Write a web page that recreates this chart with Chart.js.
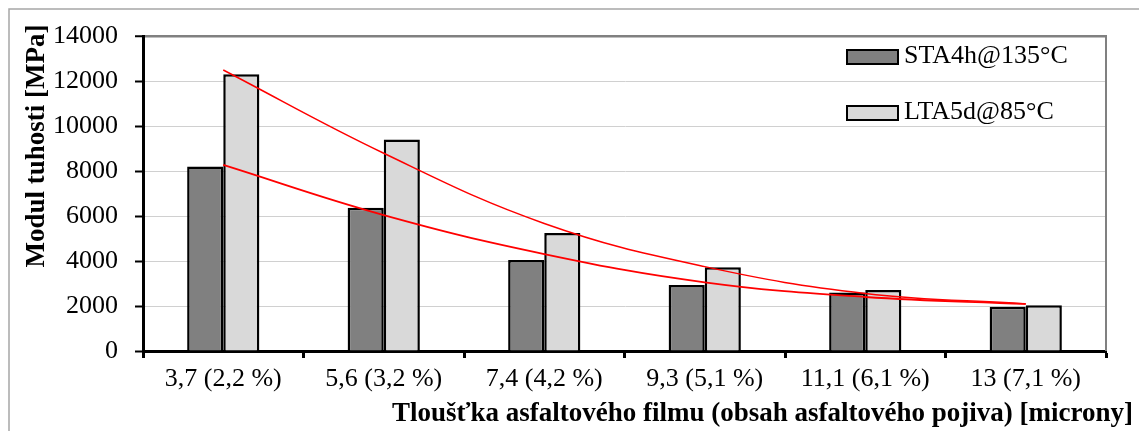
<!DOCTYPE html>
<html>
<head>
<meta charset="utf-8">
<title>Modul tuhosti</title>
<script src="https://cdn.jsdelivr.net/npm/chart.js@4.4.1/dist/chart.umd.min.js"></script>
<style>
  body { margin: 0; background: #fff; }
  canvas { display: block; }
</style>
</head>
<body>
<canvas id="modulChart" width="1139" height="431"></canvas>
<script>
// values
var categories = ['3,7 (2,2 %)', '5,6 (3,2 %)', '7,4 (4,2 %)', '9,3 (5,1 %)', '11,1 (6,1 %)', '13 (7,1 %)'];
var staValues = [8200, 6370, 4050, 2930, 2600, 1970];
var ltaValues = [12300, 9400, 5250, 3720, 2710, 2030];
var staTrend = [8270, 6040, 4310, 3050, 2400, 2090];
var ltaTrend = [12490, 8790, 5670, 3750, 2560, 2090];
var yTicks = [0, 2000, 4000, 6000, 8000, 10000, 12000, 14000];

var serif = '"Liberation Serif", "Times New Roman", serif';

// frame, right border, axis titles and the legend
var extrasPlugin = {
    id: 'extras',
    afterDraw: function(chart) {
        var ctx = chart.ctx;
        var area = chart.chartArea;
        ctx.save();
        // outer frame
        ctx.strokeStyle = '#a6a6a6';
        ctx.lineWidth = 1.5;
        ctx.beginPath();
        ctx.moveTo(9, chart.height + 5);
        ctx.lineTo(9, 9);
        ctx.lineTo(chart.width + 5, 9);
        ctx.stroke();
        // right border of plot area
        ctx.strokeStyle = '#808080';
        ctx.lineWidth = 2;
        ctx.beginPath();
        ctx.moveTo(area.right, area.top - 1);
        ctx.lineTo(area.right, area.bottom);
        ctx.stroke();

        // y title
        ctx.fillStyle = '#000';
        ctx.font = 'bold 27px ' + serif;
        ctx.textAlign = 'center';
        ctx.textBaseline = 'middle';
        ctx.save();
        ctx.translate(37, 146);
        ctx.rotate(-Math.PI / 2);
        ctx.fillText('Modul tuhosti [MPa]', 0, 0);
        ctx.restore();
        // x title
        ctx.textAlign = 'right';
        ctx.textBaseline = 'alphabetic';
        ctx.fillText('Tloušťka asfaltového filmu (obsah asfaltového pojiva) [microny]', 1133, 421);

        // legend
        ctx.font = '26px ' + serif;
        ctx.textAlign = 'left';
        ctx.textBaseline = 'middle';
        var bars = chart.data.datasets.filter(function(d) { return d.type === 'bar'; });
        bars.forEach(function(ds, i) {
            var bx = area.right - 259;
            var by = area.top + 14 + i * 56;
            ctx.fillStyle = ds.backgroundColor;
            ctx.fillRect(bx, by, 51, 14);
            ctx.strokeStyle = '#000';
            ctx.lineWidth = 2;
            ctx.strokeRect(bx, by, 51, 14);
            ctx.fillStyle = '#000';
            ctx.fillText(ds.label, bx + 57, by + 6);
        });
        ctx.restore();
    }
};

var ctx = document.getElementById('modulChart').getContext('2d');
var modulChart = new Chart(ctx, {
    data: {
        labels: categories,
        datasets: [{
            type: 'line',
            label: 'trend LTA',
            data: ltaTrend,
            borderColor: '#ff0000',
            borderWidth: 1.5,
            pointRadius: 0,
            tension: 0.4,
            fill: false,
            order: 1
        }, {
            type: 'line',
            label: 'trend STA',
            data: staTrend,
            borderColor: '#ff0000',
            borderWidth: 1.8,
            pointRadius: 0,
            tension: 0.4,
            fill: false,
            order: 1
        }, {
            type: 'bar',
            label: 'STA4h@135°C',
            data: staValues,
            backgroundColor: '#808080',
            borderColor: '#000',
            borderWidth: 2.5,
            categoryPercentage: 0.45,
            barPercentage: 1,
            order: 2
        }, {
            type: 'bar',
            label: 'LTA5d@85°C',
            data: ltaValues,
            backgroundColor: '#d9d9d9',
            borderColor: '#000',
            borderWidth: 2.5,
            categoryPercentage: 0.45,
            barPercentage: 1,
            order: 2
        }]
    },
    options: {
        responsive: false,
        animation: false,
        layout: {
            padding: { left: 0, top: 36, right: 33, bottom: 0 }
        },
        plugins: {
            legend: { display: false },
            tooltip: { enabled: false }
        },
        scales: {
            x: {
                offset: true,
                afterFit: function(scale) { scale.height = 80; },
                border: { color: '#000', width: 3 },
                grid: {
                    offset: true,
                    drawOnChartArea: false,
                    drawTicks: true,
                    tickLength: 7,
                    tickColor: '#000',
                    tickWidth: 3
                },
                ticks: {
                    color: '#000',
                    padding: 6,
                    maxRotation: 0,
                    font: { family: serif, size: 26 }
                }
            },
            y: {
                min: 0,
                max: 14000,
                afterFit: function(scale) { scale.width = 143; },
                afterBuildTicks: function(scale) {
                    scale.ticks = yTicks.map(function(v) { return { value: v }; });
                },
                border: { color: '#000', width: 3 },
                grid: {
                    color: function(c) { return c.tick && c.tick.value === 14000 ? '#808080' : '#d0d0d0'; },
                    lineWidth: function(c) { return c.tick && c.tick.value === 14000 ? 2.5 : 1; },
                    tickLength: 8,
                    tickColor: '#000',
                    tickWidth: 2
                },
                ticks: {
                    color: '#000',
                    padding: 17,
                    font: { family: serif, size: 26 },
                    callback: function(value) { return String(value); }
                }
            }
        }
    },
    plugins: [extrasPlugin]
});
</script>
</body>
</html>
